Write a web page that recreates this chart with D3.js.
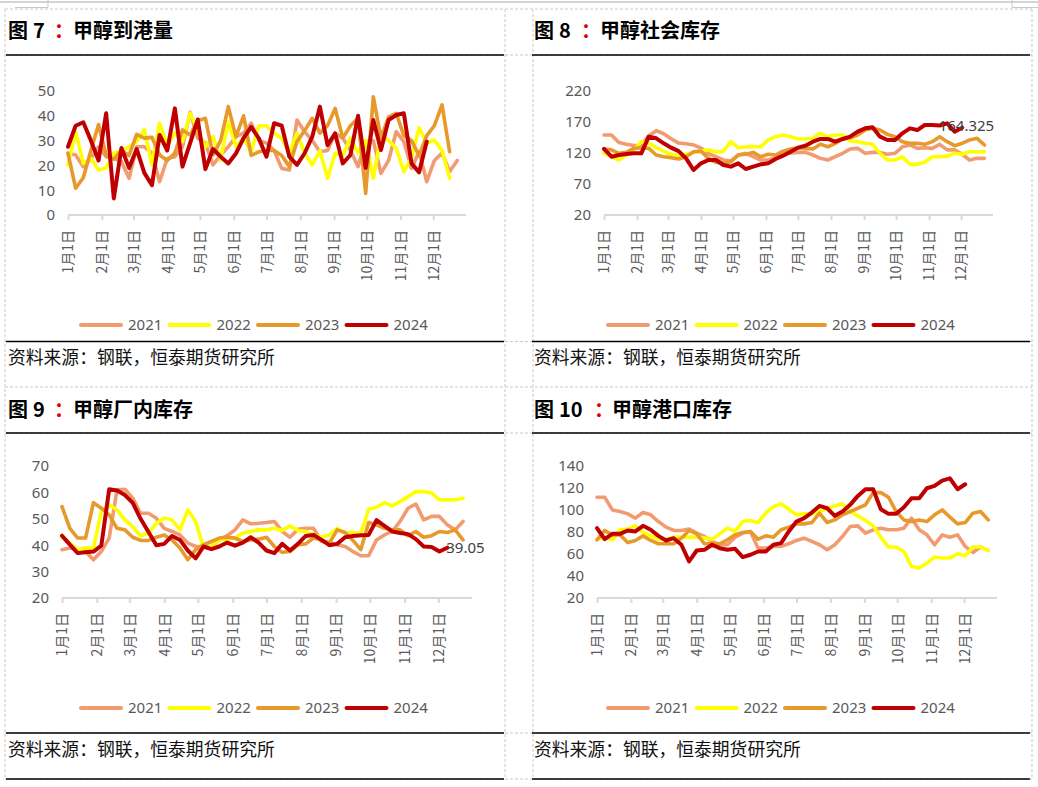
<!DOCTYPE html>
<html><head><meta charset="utf-8">
<script src="https://cdn.jsdelivr.net/npm/d3@7"></script>
<style>body{margin:0;background:#fff}svg{display:block}</style>
</head><body><svg id="c" width="1038" height="787"></svg>
<script>
// ---------- data ----------
const years = ["2021", "2022", "2023", "2024"];
const seriesColors = ["#F29B70", "#FFFF00", "#E8992B", "#C00000"];
const monthLabels = ["1月1日","2月1日","3月1日","4月1日","5月1日","6月1日","7月1日","8月1日","9月1日","10月1日","11月1日","12月1日"];

// 图7 甲醇到港量 (weekly)
const arrival2021 = [24.9,24.2,19.5,22.8,27.5,23.5,22.8,21.5,14.8,27.5,27.5,24.9,13.4,22.8,23.5,27.5,41.4,31,29,20.2,24.2,27.5,31.6,33,37,30,29,26,18.8,18.1,38.3,33.6,30,25.5,26,33,31,26,19.5,29.6,30,16.8,22,33.6,29.6,18.8,25.5,13.4,22,25,17.5,22];
const arrival2022 = [20.2,33.6,20.8,22.8,18.1,19,24.9,26,27.5,29.6,34.3,20.2,37,28,33,29.6,41,34.3,27.5,31.6,22.2,37.6,27.5,31,25.5,36,36,33,31,25,33,25,20.2,26,14.8,24.9,24,31,25,30,14.8,32,30,27,17.5,23,35.2,29,30.2,26,14.8];
const arrival2023 = [24.9,10.8,15,26,36.5,24,22.5,26,24,32.5,31,31.3,24.2,22,25,34.3,32.3,38,39,24.2,30,43.7,31.6,40,24,25.5,26,26,24,19.5,29.6,34,39,33,36,43,31,36,39,8.7,47.7,31,39.6,41,32,30,24,32,36,44.4,25.5];
const arrival2024 = [27.5,36,37.4,30,22,41,6.7,27,19,26.6,17,12,32.3,26,43,19.5,29,38.5,18.5,26.6,23.5,20.8,24.8,31,35.5,30.9,23.5,37,36,23.5,20.2,24.9,31.6,43.7,28.2,32.9,20.8,24.2,40,19,38.3,26.2,38.3,40.3,41,20.8,17.2,29.6];

// 图8 甲醇社会库存
const social2021 = [149,149,137,134,132,132,148,156,151,143,136,135,133,128,119,114,108.7,107,116.8,119.5,114,108.7,108.7,112.5,119.5,119.5,121,121,116.8,111.4,108.7,114,119.5,126.5,127.5,119.5,121,121,118,119.5,130,133,127.5,128.6,127.5,134,125,125,118,108.7,111.4,111.4];
const social2022 = [119.5,114,108.7,116.8,125,138.3,135.6,128.6,123,118,115.7,118,121,123,125,122,123,138.3,128.6,130,130,130,141,146.3,149,146.3,142.6,142.6,143.7,151.7,146.3,149,149,139.4,138.3,135.6,134,119.5,108.7,108.7,114,101.7,101.7,105,114,114,115,119.5,118,122,122,122];
const social2023 = [126.5,125,119.5,121,127.5,128.6,127.5,116.8,114,112.5,110.3,114,122,123,111.4,105,103.3,106,116.8,118,121,114,118,116.8,123,126.5,128.6,127.5,126.5,134,130,135.6,142.6,144.7,149,157,159.8,157,150,146.3,138.3,135.6,135.6,134,138.3,146.3,138.3,131.8,135.6,141,143.7,132.9];
const social2024 = [126.5,114,116.8,118.4,119.5,119.5,146.3,143.7,135.6,128.6,123,111.4,92.6,103.3,108.7,108.7,100.6,98,103.3,94.2,98,101.7,103.3,110.3,115.7,122,128.6,131.8,138.3,142.6,142.6,138.3,142.6,146.3,154.4,159.8,161.4,146.3,141,141,151.7,159.8,157,165.2,165.2,164.325,167.8,154.4,160.9];

// 图9 甲醇厂内库存
const plant2021 = [38.3,38.9,38.3,37.6,34.5,37.6,42.7,61,61.2,57.8,52.1,52.1,50.2,46.4,45.2,43.9,40.8,39.5,39.5,39.5,42,43.6,45.8,49.6,48.1,48.3,48.6,49,45.2,43,46,46.4,46.4,41.4,41,40.2,39.5,37.6,36,36,42,43.9,45.2,49,54,55.6,49.6,50.9,50.9,47.7,45.8,49];
const plant2022 = [43,40.8,38.3,38.9,38.9,52.7,55.3,53.4,49.6,47,43.6,44.6,48.3,50.2,49.6,45.8,53.4,49,38.9,39.5,42,42.3,42.7,44.6,45.2,45.8,45.8,46.4,45.6,47.3,45.6,45.2,43.9,43,43.9,46.4,44.6,44.8,44.3,53.6,54.4,56.1,54.9,56.5,58.4,60.3,60.3,59.7,57.2,57.2,57.2,57.8];
const plant2023 = [54.6,46.4,42.7,42.7,56.1,54,51.5,46.4,45.8,43,41.8,41.8,43,43.9,42,38.9,34.5,38.3,40.2,41.4,42.7,43,42.7,41.4,42,42.3,43,39.5,37.3,37.6,40.2,40.5,42.7,42,40.8,45.8,44.8,41.8,38.3,48.6,47.7,46.4,45.8,45.8,43.6,45.2,43,43.6,45.2,44.8,45.8,42];
const plant2024 = [43.6,40.2,37,37.3,37.6,39.8,61.2,60.7,59,56,50,45,40,40.5,43.5,42,38,35,39.5,38.5,39.5,41,39.8,41,43,41,38,37,40.5,38,40.5,43.5,43.9,42,40,40.5,43,43.5,43.8,43.9,49.5,47.3,45.2,44.6,44.2,42.3,39.5,39.3,37.6,39.05];

// 图10 甲醇港口库存
const port2021 = [111.6,111.6,100.1,98.6,96.5,92.6,97.7,95.6,89.5,84.4,81.4,81.4,82.6,79,75.9,71.4,68.4,68.4,75.3,79,80.5,65.3,65.3,66.9,66.9,69.3,72.3,74.4,71.4,68.4,63.8,68.4,75.9,85,85.6,79,82,83.5,82,82,83.5,92.6,82,77.4,68.4,77.4,75.3,77.4,66.9,61.4,66.3,63.2];
const port2022 = [73.5,75.3,72.9,82,82.6,85.6,79.6,76.5,73.5,73.5,75.3,75.3,75.3,75.3,74.4,73.5,78.3,83.5,80.5,89.5,90.4,88.6,97.1,103.1,105.6,100.7,95.6,96.5,96.5,98.6,101.6,103.7,105.6,98.6,94.7,90.4,85.6,75.3,66.3,66.3,62.3,48.7,47.2,51.7,57.2,56.3,56.3,60.2,58.4,66.3,66.3,63.2];
const port2023 = [72.9,81.4,77.4,77.4,70.5,72.3,76.5,72.3,69.3,69.3,69.3,74.4,81.4,78.3,69.3,69.3,69.3,72.9,77.4,79.6,80.5,73.5,76.5,75.3,82,84.4,87.4,87.4,88.6,97.1,88.6,91,95.6,98.6,101.6,104.7,115.8,115.8,111.6,98.6,91,89.5,91,89.5,95.6,100.1,93.6,87.4,88.6,97.1,98.6,91];
const port2024 = [83.5,73.5,78.3,78.3,81.4,80.5,85.6,82,76.5,72.3,74.4,68.4,53.3,63.2,63.8,68.4,65.3,63.8,64.7,57.2,59.3,62.3,62.3,68.4,69.9,80.5,89.5,92.6,97.7,103.7,101.6,94.7,98.6,104.7,112.8,118.9,118.9,100.7,96.5,96.5,102.5,110.7,110.7,119.8,121.9,126.7,128.8,118.9,123.4];

const titles = [["图","7","：","甲醇到港量"],["图","8","：","甲醇社会库存"],["图","9","：","甲醇厂内库存"],["图","10","：","甲醇港口库存"]];
const sourceText = "资料来源：钢联，恒泰期货研究所";
const yTickSets = [[0,10,20,30,40,50],[20,70,120,170,220],[20,30,40,50,60,70],[20,40,60,80,100,120,140]];
const dataLabels = [null, {index:45, text:"164.325"}, {index:49, text:"39.05"}, null];

// ---------- layout ----------
const svg = d3.select("#c");
const FONT = '"Noto Sans","Noto Sans CJK SC",sans-serif';
const CJK = '"Noto Sans CJK SC",sans-serif';

// page decorations
svg.append("line").attr("x1",0).attr("x2",1038).attr("y1",2).attr("y2",2).attr("stroke","#d4d4d4").attr("stroke-width",2);
svg.append("path").attr("d","M15,7.5H48V0").attr("fill","none").attr("stroke","#c8c8c8");
svg.append("path").attr("d","M1038,7.5H1012V0").attr("fill","none").attr("stroke","#c8c8c8");
const dash = "3,2";
[9,55,341.5,387,433,733,779].forEach(y=>svg.append("line").attr("x1",5).attr("x2",1032).attr("y1",y).attr("y2",y).attr("stroke","#c8c8c8").attr("stroke-dasharray",dash));
[5,505,533,1032].forEach(x=>svg.append("line").attr("x1",x).attr("x2",x).attr("y1",9).attr("y2",779).attr("stroke","#c8c8c8").attr("stroke-dasharray",dash));

const panels = [
  {series:[arrival2021,arrival2022,arrival2023,arrival2024], left:6,right:504, titleY:38, tx:[8,33,54,73],
   topLine:55, bottomLine:341.5, x0:68,x1:466, yTop:91,yBot:215, legendX:79, legendY:325, sourceY:364},
  {series:[social2021,social2022,social2023,social2024], left:532,right:1030, titleY:38, tx:[534,559,581,600],
   topLine:55, bottomLine:341.5, x0:604,x1:993, yTop:91,yBot:215, legendX:606, legendY:325, sourceY:364},
  {series:[plant2021,plant2022,plant2023,plant2024], left:6,right:504, titleY:417, tx:[8,33,54,73],
   topLine:433, bottomLine:733, x0:62,x1:472, yTop:466,yBot:598, legendX:79, legendY:708, sourceY:756},
  {series:[port2021,port2022,port2023,port2024], left:532,right:1030, titleY:417, tx:[534,559,594,612],
   topLine:433, bottomLine:733, x0:597,x1:997, yTop:466,yBot:598, legendX:606, legendY:708, sourceY:756}
];

const startDate = new Date(2024,0,1), endDate = new Date(2024,11,31);
const weekDate = i => d3.timeDay.offset(startDate, 7*i);

panels.forEach((p, pi) => {
  const g = svg.append("g");
  // title
  const t = g.append("text").attr("y", p.titleY).attr("font-family", CJK).attr("font-weight","bold").attr("font-size",20).attr("fill","#000");
  titles[pi].forEach((s,k)=>{
    t.append("tspan").attr("x", p.tx[k]).text(s).attr("fill", k===2 ? "#E00000" : "#000");
  });
  // border lines
  [p.topLine, p.bottomLine].concat(pi>=2 ? [779] : []).forEach(y=>
    g.append("line").attr("x1",p.left).attr("x2",p.right).attr("y1",y).attr("y2",y).attr("stroke","#000").attr("stroke-width",1.6));
  // source
  g.append("text").attr("x", p.left+2).attr("y", p.sourceY).attr("font-family", CJK).attr("font-size",17.8).attr("fill","#111").text(sourceText);

  const ticks = yTickSets[pi];
  const x = d3.scaleTime().domain([startDate, endDate]).range([p.x0, p.x1]);
  const y = d3.scaleLinear().domain([ticks[0], ticks[ticks.length-1]]).range([p.yBot, p.yTop]);

  // y axis labels (no line)
  const ya = g.append("g").attr("transform",`translate(${p.x0},0)`)
    .call(d3.axisLeft(y).tickValues(ticks).tickSize(0).tickPadding(13).tickFormat(d3.format("d")));
  ya.select(".domain").remove();
  ya.selectAll("text").attr("font-family",FONT).attr("font-size",15).attr("fill","#595959");

  // x axis
  const months = d3.timeMonth.range(startDate, endDate);
  const xa = g.append("g").attr("transform",`translate(0,${p.yBot})`)
    .call(d3.axisBottom(x).tickValues(months).tickSize(5).tickFormat((d,i)=>monthLabels[i]));
  xa.select(".domain").attr("d",`M${p.x0},0H${p.x1}`).attr("stroke","#d9d9d9").attr("stroke-width",2);
  xa.selectAll(".tick line").attr("stroke","#d9d9d9").attr("stroke-width",2);
  xa.selectAll(".tick text")
    .attr("font-family",CJK).attr("font-size",14).attr("fill","#595959")
    .attr("text-anchor","end").attr("dy","0.35em").attr("y",0)
    .attr("transform","translate(0,15) rotate(-90)");

  // lines
  const line = d3.line().x((d,i)=>x(weekDate(i))).y(d=>y(d));
  p.series.forEach((s,k)=>{
    g.append("path").datum(s).attr("d",line).attr("fill","none")
      .attr("stroke",seriesColors[k]).attr("stroke-width", k===3 ? 4 : 3.6)
      .attr("stroke-linejoin","round").attr("stroke-linecap","round");
  });

  // data label
  const dl = dataLabels[pi];
  if (dl) {
    const s = p.series[3];
    g.append("text").attr("x", x(weekDate(dl.index)) - 1).attr("y", y(s[dl.index]))
      .attr("dy","0.35em").attr("font-family",FONT).attr("font-size",15).attr("fill","#404040").text(dl.text);
  }

  // legend
  const lg = g.append("g").attr("transform",`translate(${p.legendX},${p.legendY})`);
  years.forEach((yr,k)=>{
    const ox = k*88.5;
    lg.append("line").attr("x1",ox+2).attr("x2",ox+42).attr("y1",0).attr("y2",0)
      .attr("stroke",seriesColors[k]).attr("stroke-width",4).attr("stroke-linecap","round");
    lg.append("text").attr("x",ox+49).attr("y",0).attr("dy","0.36em")
      .attr("font-family",FONT).attr("font-size",15).attr("fill","#595959").text(yr);
  });
});
</script></body></html>
